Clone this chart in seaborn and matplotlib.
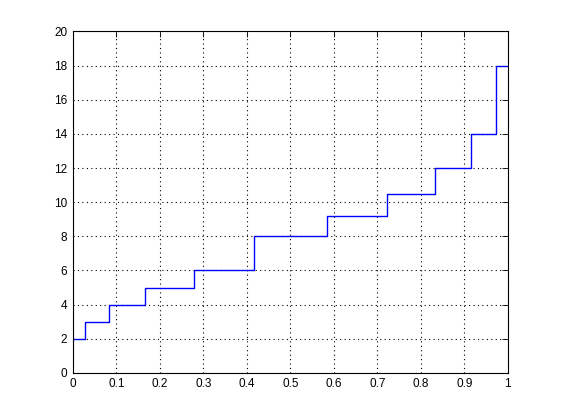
import numpy as np
import pandas as pd
import matplotlib
matplotlib.use("Agg")
import matplotlib.pyplot as plt
import seaborn as sns

# Step edges (cumulative probability) and step levels
x_edges = [0, 1/36, 3/36, 6/36, 10/36, 15/36, 21/36, 26/36, 30/36, 33/36, 35/36, 1]
y_levels = [2, 3, 4, 5, 6, 8, 9.2, 10.5, 12, 14, 18, 18]
x_ticks = [0, 0.1, 0.2, 0.3, 0.4, 0.5, 0.6, 0.7, 0.8, 0.9, 1]
x_ticklabels = ["0", "0.1", "0.2", "0.3", "0.4", "0.5", "0.6", "0.7", "0.8", "0.9", "1"]
y_ticks = [0, 2, 4, 6, 8, 10, 12, 14, 16, 18, 20]

sns.set_style("white")
plt.rcParams['font.family'] = ['Liberation Sans', 'DejaVu Sans']

df = pd.DataFrame({"x": x_edges, "y": y_levels})

fig = plt.figure(figsize=(5.61, 4.19), dpi=100, facecolor="white")
ax = fig.add_axes([0.13, 0.11, 0.775, 0.815])
sns.lineplot(data=df, x="x", y="y", ax=ax, drawstyle="steps-post",
             color=(0, 0, 1), linewidth=1.0, estimator=None, sort=False)

ax.set_xlim(0, 1)
ax.set_ylim(0, 20)
ax.set_xticks(x_ticks)
ax.set_xticklabels(x_ticklabels)
ax.set_yticks(y_ticks)
ax.set_xlabel("")
ax.set_ylabel("")
ax.grid(True, color="black", linestyle=(0, (1, 3)), linewidth=0.8)
ax.tick_params(direction="in", length=4, width=0.6, top=True, right=True,
               labelsize=8.5, colors="black", pad=4)
for s in ax.spines.values():
    s.set_visible(True)
    s.set_color("black")
    s.set_linewidth(0.8)

fig.savefig("out.png", dpi=100, facecolor="white")
